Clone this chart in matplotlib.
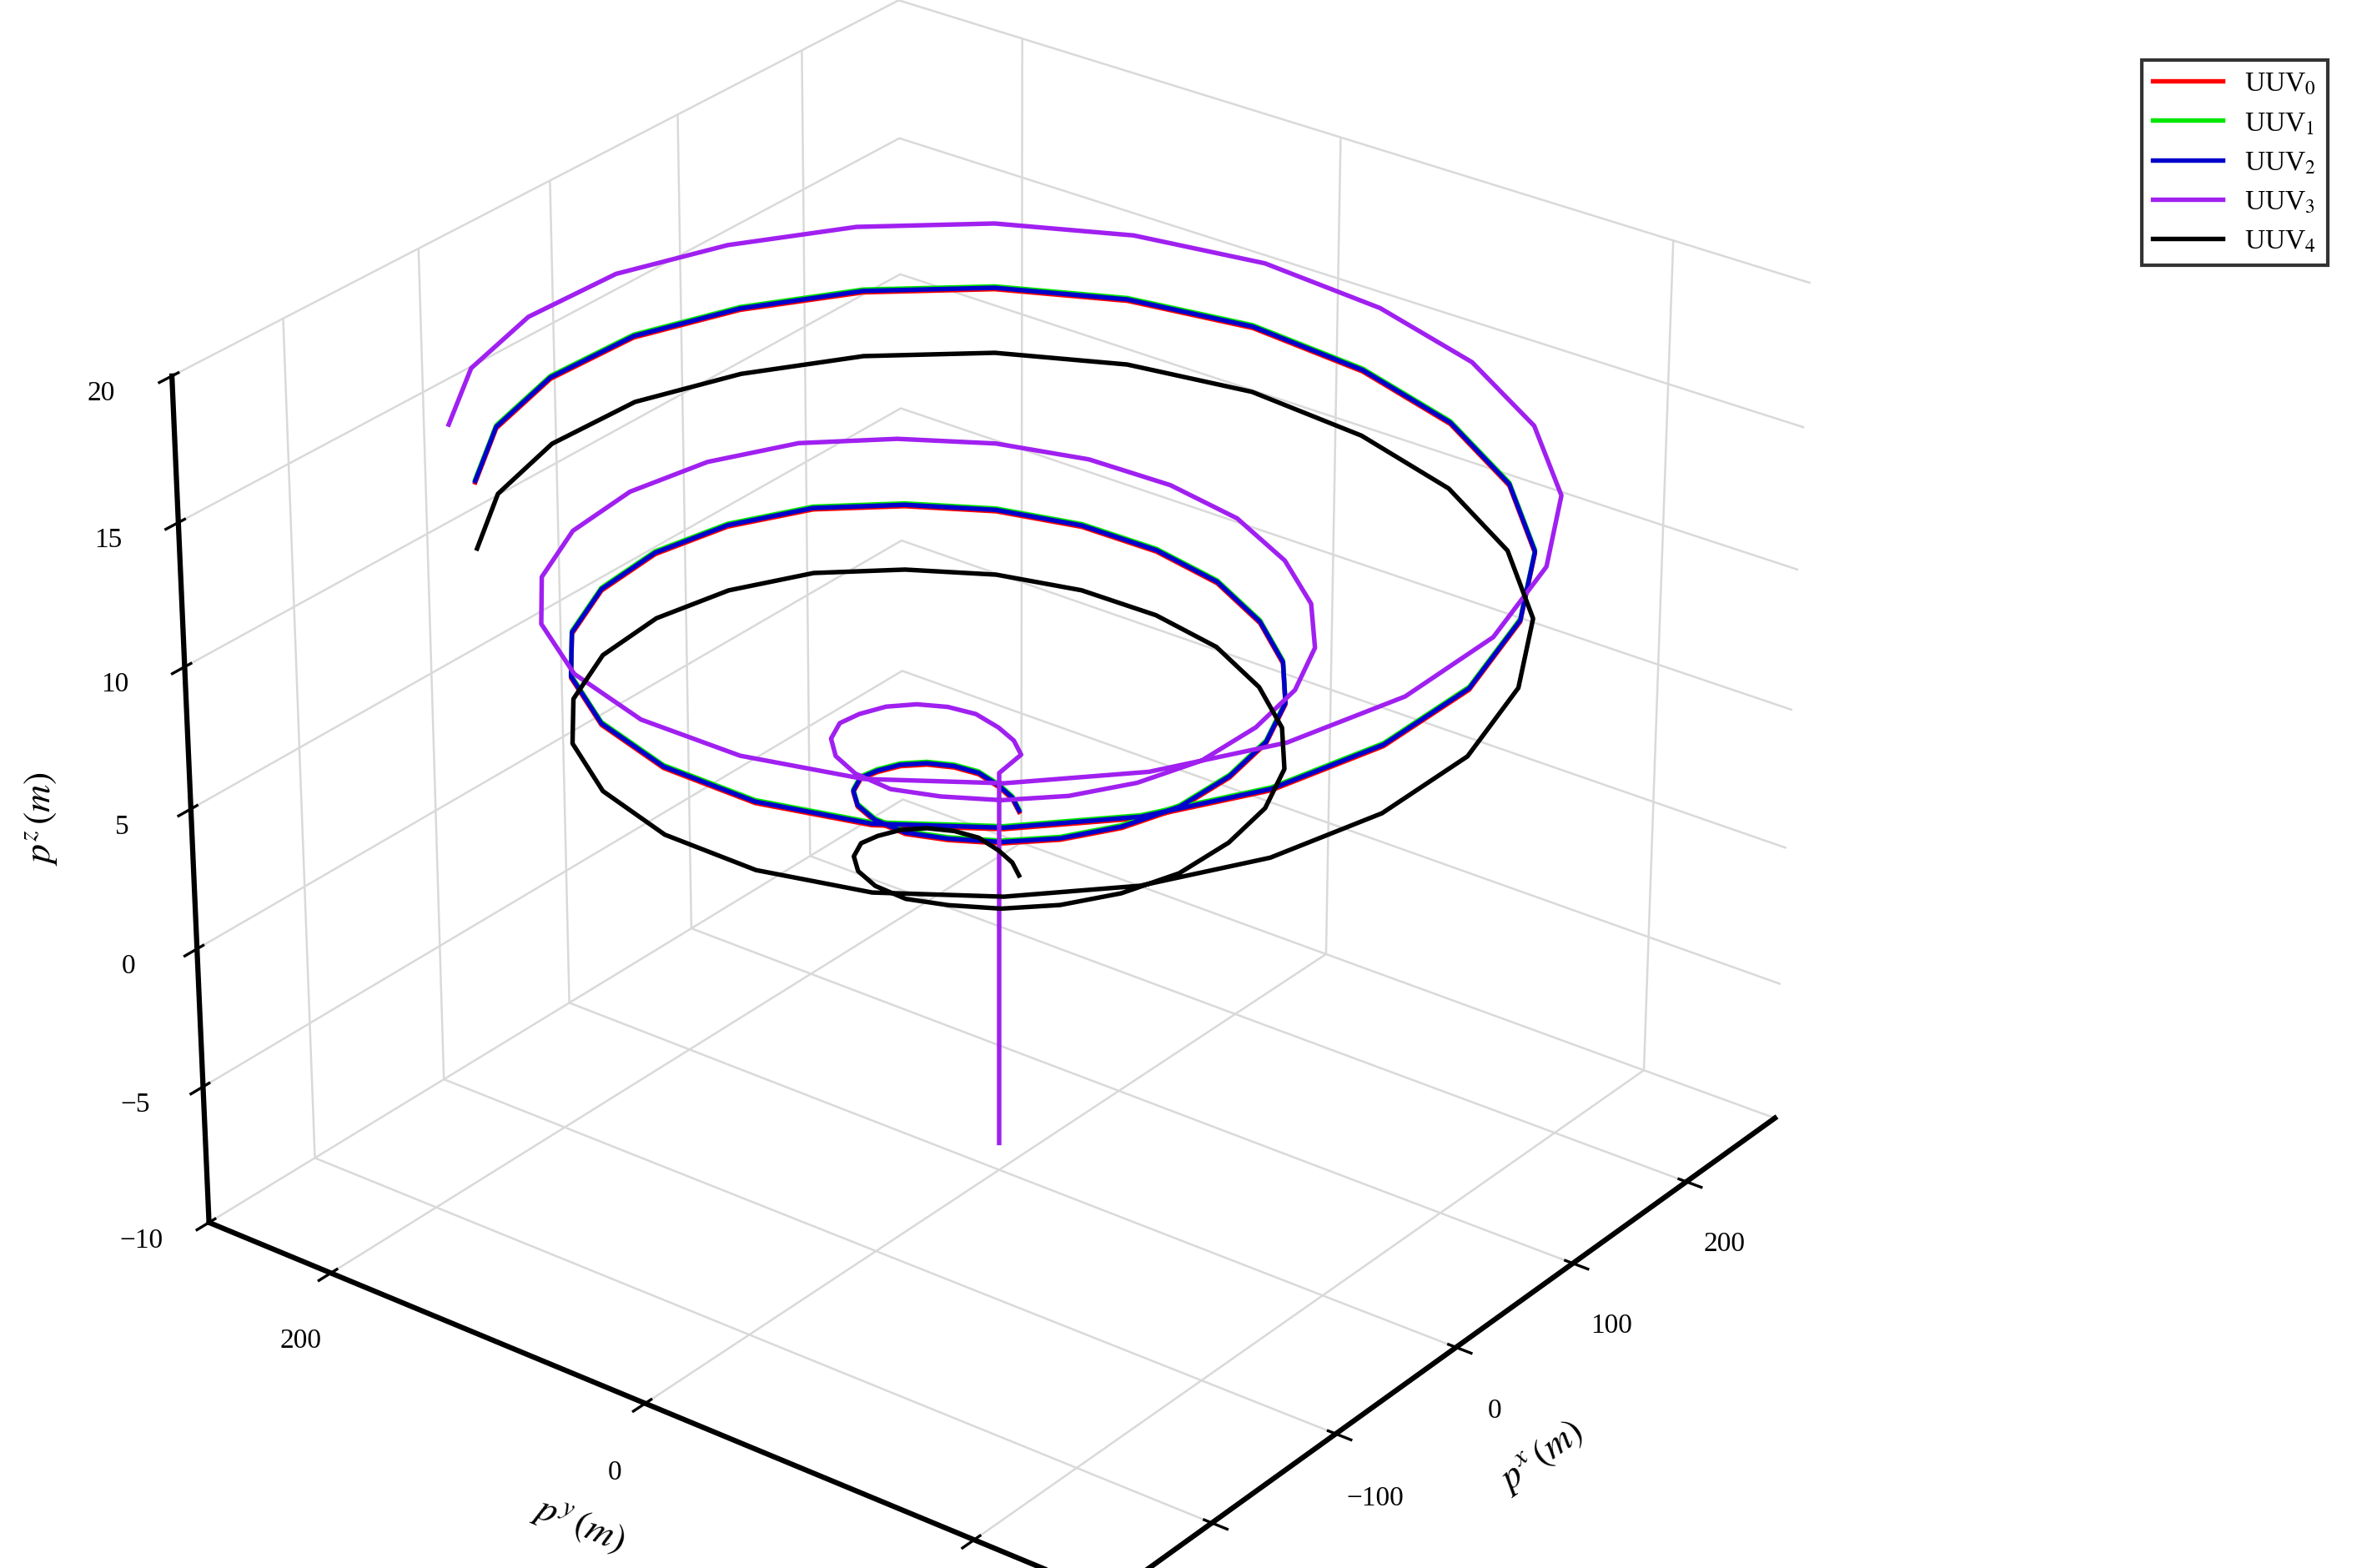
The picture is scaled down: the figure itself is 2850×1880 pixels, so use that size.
import numpy as np
import matplotlib.pyplot as plt

plt.rcParams['font.family'] = ['Liberation Serif', 'DejaVu Serif']
plt.rcParams['mathtext.fontset'] = 'stix'

# waypoints: heading (deg), radius (m), depth (m)
theta = list(range(8, 849, 15))
r_main = [20, 26, 32, 38, 44, 50, 56, 62, 68, 74, 80, 86, 92, 98, 104, 110, 116, 122,
          128, 134, 140, 145, 150,
          155, 160, 166, 172, 178, 184, 190, 196, 202, 208, 214, 220, 226, 232, 237,
          242, 246, 250, 253, 256, 258, 260,
          260, 260, 260, 260, 260, 259, 258, 257, 256, 255, 254, 253]
r_uuv3 = [22, 29, 36, 43, 50, 57, 64, 71, 78, 85, 92, 99, 106, 112, 118, 124, 130, 136,
          142, 148, 154, 159, 164,
          169, 174, 180, 186, 192, 198, 204, 210, 216, 222, 228, 234, 240, 245, 250,
          255, 259, 263, 266, 268, 270, 272,
          272, 272, 272, 272, 272, 271, 270, 269, 268, 267, 266, 265]
z_main = [2.5, 2.7, 2.9, 3.2, 3.4, 3.6, 3.8, 4.0, 4.3, 4.5,
          4.7, 4.9, 5.1, 5.4, 5.6, 5.8, 6.0, 6.2, 6.5, 6.7,
          6.9, 7.1, 7.3, 7.6, 7.8, 8.0, 8.2, 8.4, 8.7, 8.9,
          9.1, 9.3, 9.5, 9.8, 10.0, 10.2, 10.4, 10.6, 10.9, 11.1,
          11.3, 11.5, 11.7, 12.0, 12.2, 12.4, 12.6, 12.8, 13.1, 13.3,
          13.5, 13.7, 13.9, 14.2, 14.4, 14.6, 14.8]
# depth offset of each vehicle from the formation track
z_offset = [0.0, 0.1, 0.05, 2.0, -2.3]
# UUV3 climbs from the seabed at the centre first
z_uuv3_start = [-9.0, -5.0, -1.0, 2.5, 4.5]

names = [r'UUV$_0$', r'UUV$_1$', r'UUV$_2$', r'UUV$_3$', r'UUV$_4$']
colors = ['#ff0000', '#00e600', '#0000cc', '#a020f0', '#000000']
radii = [r_main, r_main, r_main, r_uuv3, r_main]

fig = plt.figure(figsize=(9.5, 6.27), dpi=300)
ax = fig.add_axes([-0.1, -0.08, 1.02, 1.16], projection='3d')

for name, c, rr, dz in zip(names, colors, radii, z_offset):
    t = np.deg2rad(theta)
    xs = np.array(rr) * np.cos(t)
    ys = np.array(rr) * np.sin(t)
    zs = np.array(z_main) + dz
    if name == r'UUV$_3$':
        xs = np.concatenate([np.zeros(len(z_uuv3_start)), xs])
        ys = np.concatenate([np.zeros(len(z_uuv3_start)), ys])
        zs = np.concatenate([z_uuv3_start, zs])
    ax.plot(xs, ys, zs, color=c, lw=1.3, label=name)

ax.set_xlim(-280, 280)
ax.set_ylim(-280, 280)
ax.set_zlim(-10, 20)
ax.set_xticks([-200, -100, 0, 100, 200])
ax.set_yticks([-200, 0, 200])
ax.set_zticks([-10, -5, 0, 5, 10, 15, 20])
ax.set_xlabel(r'$p^x\,(m)$', fontsize=11)
ax.set_ylabel(r'$p^y\,(m)$', fontsize=11)
ax.zaxis.set_rotate_label(False)
ax.set_zlabel(r'$p^z\,(m)$', fontsize=11, rotation=90)
ax.tick_params(labelsize=8)
ax.view_init(elev=28, azim=-142.5)
ax.set_box_aspect((1.2, 1.2, 1.0), zoom=1.0)

for a in (ax.xaxis, ax.yaxis, ax.zaxis):
    a.set_pane_color((1, 1, 1, 0))
    a._axinfo['grid']['color'] = (0.85, 0.85, 0.85, 1)
    a._axinfo['grid']['linewidth'] = 0.6
    a.line.set_linewidth(1.5)

fig.legend(loc='upper right', bbox_to_anchor=(0.985, 0.97), fontsize=8,
           frameon=True, fancybox=False, edgecolor='black', handlelength=2.5)

plt.savefig('out.png')
